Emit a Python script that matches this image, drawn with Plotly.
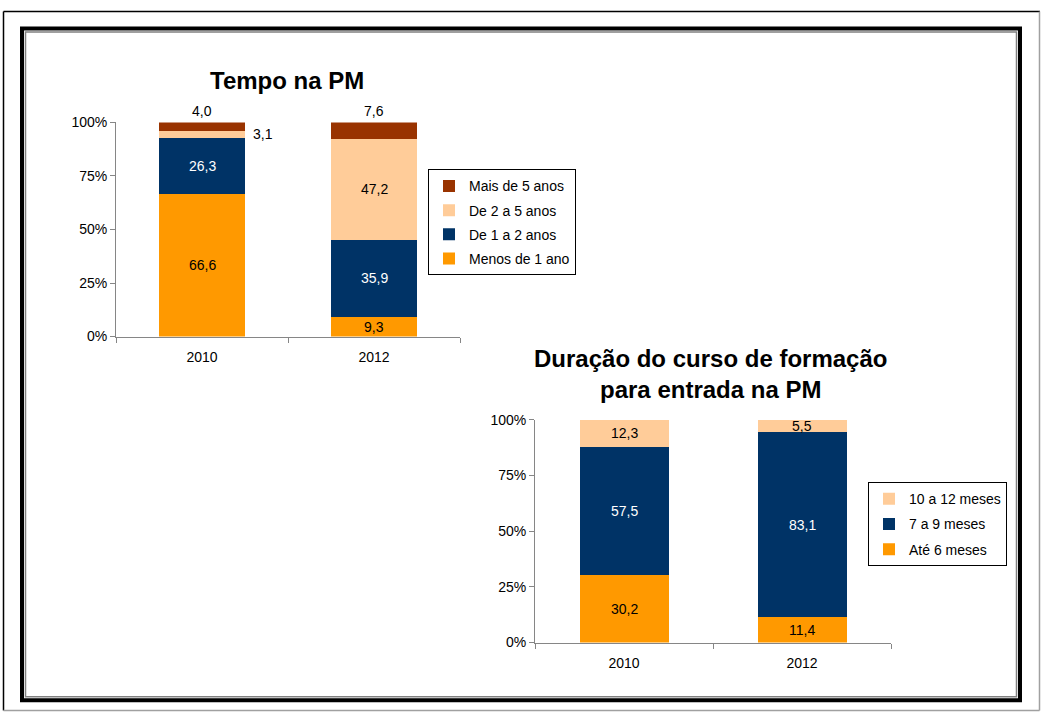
import plotly.graph_objects as go

W, H = 1041, 720

# ---------------- data ----------------
years = ["2010", "2012"]

tempo_series = ["Menos de 1 ano", "De 1 a 2 anos", "De 2 a 5 anos", "Mais de 5 anos"]
tempo_menos1 = [66.6, 9.3]
tempo_1a2 = [26.3, 35.9]
tempo_2a5 = [3.1, 47.2]
tempo_mais5 = [4.0, 7.6]

curso_series = ["Até 6 meses", "7 a 9 meses", "10 a 12 meses"]
curso_ate6 = [30.2, 11.4]
curso_7a9 = [57.5, 83.1]
curso_10a12 = [12.3, 5.5]

title1 = "Tempo na PM"
title2_lines = ["Duração do curso de formação", "para entrada na PM"]

y_ticks = [0, 25, 50, 75, 100]
y_ticktext = [f"{t}%" for t in y_ticks]

# ---------------- styles ----------------
COL = {
    "Menos de 1 ano": "#FF9900",
    "De 1 a 2 anos": "#003366",
    "De 2 a 5 anos": "#FFCC99",
    "Mais de 5 anos": "#993300",
    "Até 6 meses": "#FF9900",
    "7 a 9 meses": "#003366",
    "10 a 12 meses": "#FFCC99",
}
FONT = "Liberation Sans, Arial, sans-serif"
AXC = "#868686"


def px(x):
    """picture pixel x -> paper fraction"""
    return x / W


def py(y):
    """picture pixel y -> paper fraction"""
    return 1 - y / H


def fmt(v):
    return f"{v:.1f}".replace(".", ",")


fig = go.Figure()
annotations = []


def add_chart(series, values, xa, ya, legend, above_top=False):
    cum = [0.0] * len(years)
    n = len(series)
    for k, (name, vals) in enumerate(zip(series, values)):
        fig.add_trace(go.Bar(
            x=years, y=vals, name=name,
            marker=dict(color=COL[name], line=dict(width=0)),
            xaxis=xa, yaxis=ya, legend=legend, legendgroup=legend + name,
            legendrank=n - k, hoverinfo="skip",
        ))
        tcol = "#FFFFFF" if COL[name] == "#003366" else "#000000"
        for i in range(len(years)):
            v = vals[i]
            c = cum[i] + v / 2
            a = dict(x=i, xref=xa, yref=ya, text=fmt(v), showarrow=False,
                     xanchor="center", font=dict(family=FONT, size=14, color=tcol))
            if above_top and k == n - 1:
                a.update(y=cum[i] + v, yanchor="bottom", yshift=1,
                         font=dict(family=FONT, size=14, color="#000000"))
            elif v < 4:
                a.update(y=c, yanchor="middle", xanchor="left", xshift=49,
                         font=dict(family=FONT, size=14, color="#000000"))
            else:
                a.update(y=c, yanchor="middle")
            annotations.append(a)
            cum[i] += v


add_chart(tempo_series, [tempo_menos1, tempo_1a2, tempo_2a5, tempo_mais5], "x", "y", "legend", above_top=True)
add_chart(curso_series, [curso_ate6, curso_7a9, curso_10a12], "x2", "y2", "legend2")

# titles
annotations.append(dict(x=px(287), y=py(74), xref="paper", yref="paper",
                        text=f"<b>{title1}</b>", showarrow=False, xanchor="center", yanchor="middle",
                        font=dict(family=FONT, size=24, color="#000000")))
annotations.append(dict(x=px(710), y=py(374), xref="paper", yref="paper",
                        text="<br>".join(f"<b>{t}</b>" for t in title2_lines), showarrow=False,
                        xanchor="center", yanchor="middle",
                        font=dict(family=FONT, size=24, color="#000000")))

xaxis_common = dict(type="category", range=[-0.5, len(years) - 0.5], autorange=False,
                    showline=True, linecolor=AXC, linewidth=1,
                    ticks="outside", tickson="boundaries", ticklen=5, tickcolor=AXC,
                    showgrid=False, zeroline=False, fixedrange=True, ticklabelstandoff=8,
                    tickfont=dict(family=FONT, size=14, color="#000000"))
yaxis_common = dict(range=[0, 100], autorange=False, tickmode="array",
                    tickvals=y_ticks, ticktext=y_ticktext, showline=True,
                    linecolor=AXC, linewidth=1, ticks="outside", ticklen=5, tickcolor=AXC,
                    showgrid=False, zeroline=False, fixedrange=True,
                    tickfont=dict(family=FONT, size=14, color="#000000"))

legend_common = dict(bgcolor="#FFFFFF", bordercolor="#000000", borderwidth=1,
                     font=dict(family=FONT, size=14, color="#000000"),
                     traceorder="grouped", xanchor="left", yanchor="top")

shapes = [
    # outer frame: dark top/left, light bottom/right
    dict(type="line", xref="paper", yref="paper", x0=px(3.5), y0=py(3.5), x1=px(1040), y1=py(3.5),
         line=dict(color="#000000", width=1.5)),
    dict(type="line", xref="paper", yref="paper", x0=px(3.5), y0=py(3.5), x1=px(3.5), y1=py(718.5),
         line=dict(color="#000000", width=1.5)),
    dict(type="line", xref="paper", yref="paper", x0=px(1039.5), y0=py(3.5), x1=px(1039.5), y1=py(718.5),
         line=dict(color="#A0A0A0", width=1.5)),
    dict(type="line", xref="paper", yref="paper", x0=px(3.5), y0=py(718.5), x1=px(1039.5), y1=py(718.5),
         line=dict(color="#A0A0A0", width=1.5)),
    # inner double frame
    dict(type="rect", xref="paper", yref="paper", x0=px(22), y0=py(21), x1=px(1020), y1=py(708),
         line=dict(color="#000000", width=4)),
    dict(type="rect", xref="paper", yref="paper", x0=px(25.5), y0=py(24.5), x1=px(1016.5), y1=py(704.5),
         line=dict(color="#808080", width=1.5)),
]

fig.update_layout(
    width=W, height=H, margin=dict(l=0, r=0, t=0, b=0),
    paper_bgcolor="#FFFFFF", plot_bgcolor="#FFFFFF",
    barmode="stack", bargap=0.5,
    font=dict(family=FONT, size=14, color="#000000"),
    xaxis=dict(xaxis_common, domain=[px(116), px(460)], anchor="y"),
    yaxis=dict(yaxis_common, domain=[py(336), py(117)], anchor="x"),
    xaxis2=dict(xaxis_common, domain=[px(535), px(891)], anchor="y2"),
    yaxis2=dict(yaxis_common, domain=[py(649), py(421)], anchor="x2"),
    legend=dict(legend_common, x=px(428), y=py(165), tracegroupgap=3),
    legend2=dict(legend_common, x=px(868), y=py(485), tracegroupgap=4),
    annotations=annotations,
    shapes=shapes,
    showlegend=True,
)

fig.write_html("out.html", config={"displayModeBar": False},
               post_script="document.body.style.margin='0px';document.body.style.overflow='hidden';")
